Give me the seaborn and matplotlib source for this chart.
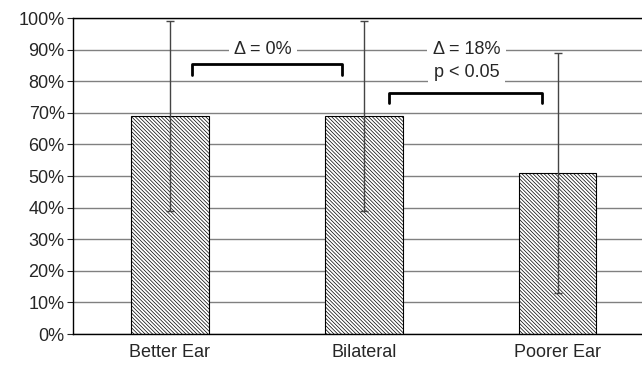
import numpy as np
import pandas as pd
import seaborn as sns
import matplotlib.pyplot as plt

conditions = ["Better Ear", "Bilateral", "Poorer Ear"]
scores = [69, 69, 51]
errors = [30, 30, 38]
y_ticks = [0, 10, 20, 30, 40, 50, 60, 70, 80, 90, 100]

sns.set_style("white")
plt.rcParams['font.family'] = ['Liberation Sans', 'DejaVu Sans']
plt.rcParams['hatch.linewidth'] = 0.5
plt.rcParams['hatch.color'] = '#666666'

df = pd.DataFrame({"Condition": conditions, "Score": scores})

fig = plt.figure(figsize=(6.42, 3.67), dpi=100)
ax = fig.add_axes([0.1137, 0.0899, 0.906, 0.861])

sns.barplot(data=df, x="Condition", y="Score", ax=ax, width=0.4,
            color="white", edgecolor="black", linewidth=0.8,
            hatch="\\" * 9, errorbar=None, zorder=2)
ax.errorbar(np.arange(len(conditions)), scores, yerr=errors, fmt="none",
            ecolor="#444444", elinewidth=1.0, capsize=3, capthick=1.0, zorder=3)

fs = 13
ax.set_xlim(-0.5, 2.5)
ax.set_ylim(0, 100)
ax.set_yticks(y_ticks)
ax.set_yticklabels([f"{t}%" for t in y_ticks], fontsize=fs)
ax.set_xticks(range(len(conditions)))
ax.set_xticklabels(conditions, fontsize=fs)
ax.set_xticks([0.5, 1.5], minor=True)
ax.tick_params(axis="x", which="major", length=0, pad=7)
ax.tick_params(axis="x", which="minor", length=4, width=0.8, color="#555555", direction="out")
ax.tick_params(axis="y", length=4, width=0.8, direction="out", left=True, pad=2)
ax.set_xlabel("")
ax.set_ylabel("")
ax.yaxis.grid(True, color="#808080", linewidth=1.0, zorder=0)
ax.set_axisbelow(True)
for side in ["left", "bottom", "top"]:
    ax.spines[side].set_visible(True)
    ax.spines[side].set_color("black")
    ax.spines[side].set_linewidth(1.0)
ax.spines["right"].set_visible(False)

# significance brackets
ax.plot([0.113, 0.113, 0.89, 0.89], [82.1, 85.3, 85.3, 82.1], color="black", lw=2, zorder=6)
ax.plot([1.13, 1.13, 1.92, 1.92], [73.2, 76.4, 76.4, 73.2], color="black", lw=2, zorder=6)
box = dict(facecolor="white", edgecolor="none", pad=4)
ax.text(0.48, 90, "Δ = 0%", ha="center", va="center", fontsize=fs, bbox=box, zorder=5)
ax.text(1.53, 90, "Δ = 18%", ha="center", va="center", fontsize=fs, bbox=box, zorder=5)
ax.text(1.53, 82.7, "p < 0.05", ha="center", va="center", fontsize=fs, bbox=box, zorder=5)

fig.savefig("out.png", dpi=100)
